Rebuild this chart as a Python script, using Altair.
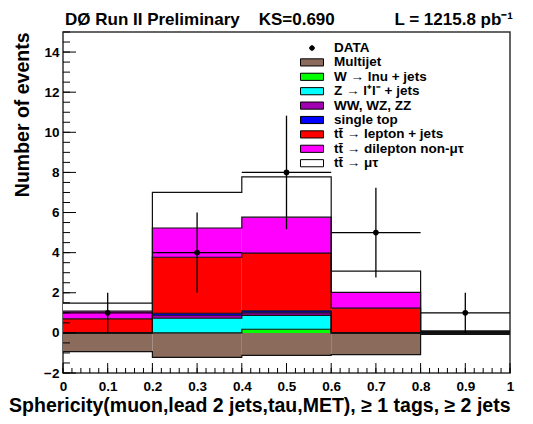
import altair as alt
import pandas as pd

# ---------------- data ----------------
edges = [0.0, 0.2, 0.4, 0.6, 0.8, 1.0]
centers = [0.1, 0.3, 0.5, 0.7, 0.9]
data_counts = [1, 4, 8, 5, 1]

names = ["DATA", "Multijet", "W → lnu + jets", "Z → l⁺l⁻ + jets", "WW, WZ, ZZ",
         "single top", "tt̄ → lepton + jets", "tt̄ → dilepton non-μτ", "tt̄ → μτ"]
colors = ["#000000", "#8b6b5c", "#00ff00", "#00ffff", "#a000b0",
          "#0000ff", "#ff0000", "#ff00ff", "#ffffff"]

multijet = [-0.93, -1.22, -1.12, -1.08, -0.07]
w_jets = [0.0, 0.0, 0.18, 0.0, 0.0]
z_jets = [0.0, 0.73, 0.69, 0.0, 0.0]
diboson = [0.0, 0.15, 0.13, 0.0, 0.0]
single_top = [0.0, 0.10, 0.10, 0.0, 0.0]
lep_jets = [0.70, 2.79, 2.88, 1.23, 0.05]
dilep = [0.38, 1.46, 1.79, 0.79, 0.02]
mutau = [0.40, 1.77, 2.01, 1.06, 0.03]

lumi_text = "L = 1215.8 pb⁻¹"
title_text = "DØ Run II Preliminary\u00a0\u00a0\u00a0\u00a0KS=0.690"
x_title = "Sphericity(muon,lead 2 jets,tau,MET), ≥ 1 tags, ≥ 2 jets"
y_title = "Number of events"

x_major = [0, 0.1, 0.2, 0.3, 0.4, 0.5, 0.6, 0.7, 0.8, 0.9, 1]
x_minor = [i / 50 for i in range(51)]
y_major = [-2, 0, 2, 4, 6, 8, 10, 12, 14]
y_minor = [i / 2 for i in range(-4, 31)]

# ---------------- tables built from the arrays ----------------
color_of = dict(zip(names, colors))
stack_names = names[2:]
stack_vals = [w_jets, z_jets, diboson, single_top, lep_jets, dilep, mutau]

rect_rows = []
line_rows = []
for b in range(5):
    rect_rows.append(dict(x0=edges[b], x1=edges[b + 1], y0=0.0, y1=multijet[b],
                          col=color_of[names[1]]))
for b in range(6):
    line_rows.append(dict(x=edges[b], y=multijet[min(b, 4)], layer="mj"))
cum = [0.0] * 5
for nm, vals in zip(stack_names, stack_vals):
    for b in range(5):
        rect_rows.append(dict(x0=edges[b], x1=edges[b + 1], y0=cum[b], y1=cum[b] + vals[b],
                              col=color_of[nm]))
        cum[b] += vals[b]
    for b in range(6):
        line_rows.append(dict(x=edges[b], y=cum[min(b, 4)], layer=nm))

df_rect = pd.DataFrame(rect_rows)
df_line = pd.DataFrame(line_rows)
df_data = pd.DataFrame(dict(
    xc=centers, xl=edges[:-1], xr=edges[1:], n=data_counts,
    lo=[n - n ** 0.5 for n in data_counts], hi=[n + n ** 0.5 for n in data_counts]))
df_leg = pd.DataFrame(dict(comp=names, lx=[0.5] * len(names), ly=[-5.0] * len(names)))

# ---------------- chart ----------------
W, H = 447, 341
FONT = "Liberation Sans"
xs = alt.Scale(domain=[0, 1], nice=False, zero=False)
ys = alt.Scale(domain=[-2, 15], nice=False, zero=False)
cs = alt.Scale(domain=names, range=colors)

rect_path = "M-1.77,-0.55H1.77V0.55H-1.77Z"
dot_path = "M0,-0.36A0.36,0.36 0 1,1 0,0.36A0.36,0.36 0 1,1 0,-0.36Z"
shapes = [dot_path] + [rect_path] * (len(names) - 1)

x_main = alt.Axis(values=x_major, format="~g", ticks=False, domain=False, grid=False,
                  labelFlush=False, labelPadding=6, labelFontSize=13.5,
                  title=x_title, titleFontSize=19.5, titleAnchor="end", titlePadding=4)
y_main = alt.Axis(values=y_major, format="d", ticks=False, domain=False, grid=False,
                  labelFlush=False, labelPadding=4, labelFontSize=13.5,
                  title=y_title, titleFontSize=19.5, titleAnchor="end", titlePadding=11)

fills = alt.Chart(df_rect).mark_rect(strokeWidth=0).encode(
    x=alt.X("x0:Q", scale=xs, axis=x_main),
    x2="x1:Q",
    y=alt.Y("y0:Q", scale=ys, axis=y_main),
    y2="y1:Q",
    color=alt.Color("col:N", scale=None),
)

outlines = alt.Chart(df_line).mark_line(interpolate="step-after", color="#111", strokeWidth=1.2).encode(
    x=alt.X("x:Q", scale=xs),
    y=alt.Y("y:Q", scale=ys),
    detail="layer:N",
)

# inward ticks (ROOT style)
def xticks(vals, length):
    return alt.Chart(pd.DataFrame({"v": vals})).mark_rule(color="black", strokeWidth=1).encode(
        x=alt.X("v:Q", scale=xs), y=alt.value(H), y2=alt.value(H - length))

def yticks(vals, length):
    return alt.Chart(pd.DataFrame({"v": vals})).mark_rule(color="black", strokeWidth=1).encode(
        y=alt.Y("v:Q", scale=ys), x=alt.value(0), x2=alt.value(length))

vbars = alt.Chart(df_data).mark_rule(color="black", strokeWidth=1.3).encode(
    x=alt.X("xc:Q", scale=xs),
    y=alt.Y("lo:Q", scale=ys),
    y2="hi:Q",
)
hbars = alt.Chart(df_data).mark_rule(color="black", strokeWidth=1.3).encode(
    x=alt.X("xl:Q", scale=xs),
    x2="xr:Q",
    y=alt.Y("n:Q", scale=ys),
)
points = alt.Chart(df_data).mark_point(filled=True, color="black", size=32, opacity=1).encode(
    x=alt.X("xc:Q", scale=xs),
    y=alt.Y("n:Q", scale=ys),
)

leg = alt.Legend(title=None, orient="none", legendX=242, legendY=9,
                 symbolSize=169, symbolStrokeColor="black", symbolStrokeWidth=1,
                 labelFont=FONT, labelFontSize=13.5, labelFontWeight="bold",
                 labelColor="black", labelOffset=15, labelLimit=400, rowPadding=0.4)
legend_layer = alt.Chart(df_leg).mark_point(filled=True, opacity=1, stroke="black",
                                            strokeWidth=1, clip=True).encode(
    x=alt.X("lx:Q", scale=xs),
    y=alt.Y("ly:Q", scale=ys),
    color=alt.Color("comp:N", scale=cs, legend=leg),
    shape=alt.Shape("comp:N", scale=alt.Scale(domain=names, range=shapes), legend=leg),
)

df_txt = pd.DataFrame({"t": [title_text], "l": [lumi_text]})
title_mark = alt.Chart(df_txt).mark_text(
    align="left", baseline="alphabetic", font=FONT, fontSize=17, fontWeight="bold",
    color="black").encode(x=alt.value(2), y=alt.value(-7), text="t:N")
lumi = alt.Chart(df_txt).mark_text(
    align="right", baseline="alphabetic", font=FONT, fontSize=17, fontWeight="bold",
    color="black").encode(x=alt.value(W + 3), y=alt.value(-7), text="l:N")

chart = alt.layer(
    fills, outlines,
    xticks(x_minor, 5), xticks(x_major, 10), yticks(y_minor, 7), yticks(y_major, 13),
    vbars, hbars, points, legend_layer, title_mark, lumi,
).properties(
    width=W, height=H,
    autosize=alt.AutoSizeParams(type="none"),
    padding={"left": 55, "top": 24, "right": 15, "bottom": 43},
).configure_axis(
    labelFont=FONT, titleFont=FONT, labelFontWeight="bold", titleFontWeight="bold",
    labelColor="black", titleColor="black",
).configure_view(stroke="#333", strokeWidth=1.5)

chart.save("out.html", embed_options={"renderer": "svg", "actions": False})
